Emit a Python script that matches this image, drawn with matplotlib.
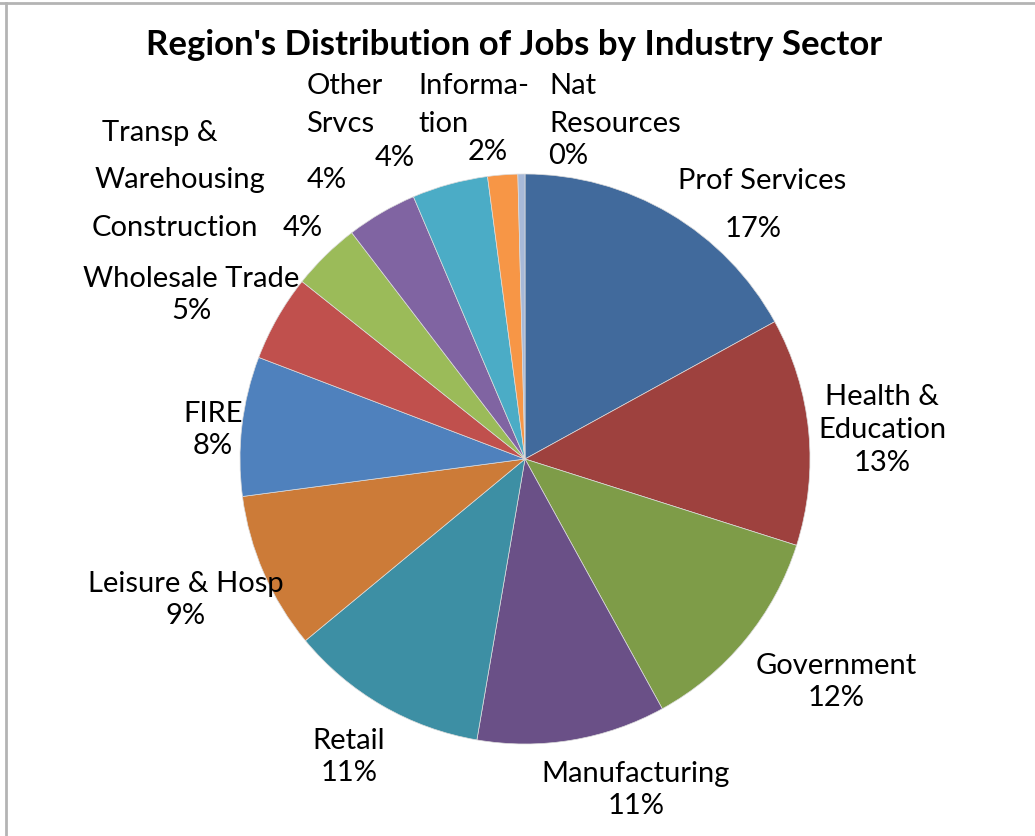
import matplotlib
matplotlib.use("Agg")
import matplotlib.pyplot as plt
from matplotlib.lines import Line2D

# shares of jobs (%), clockwise from 12 o'clock
sectors = ["Prof Services", "Health & Education", "Government", "Manufacturing",
           "Retail", "Leisure & Hosp", "FIRE", "Wholesale Trade", "Construction",
           "Transp & Warehousing", "Other Srvcs", "Information", "Nat Resources"]
shares = [17.0, 12.9, 12.1, 10.7, 11.3, 8.9, 7.9, 4.9, 3.9, 4.0, 4.3, 1.7, 0.4]
colors = ["#416A9C", "#9E413E", "#7E9C48", "#6A5087", "#3D8FA4", "#CC7B38",
          "#4F81BD", "#C0504D", "#9BBB59", "#8064A2", "#4BACC6", "#F79646",
          "#A7B9D8"]

W, H = 1035, 837
fig = plt.figure(figsize=(W / 100, H / 100), dpi=100)
ax = fig.add_axes([0, 0, 1, 1])
ax.axis("off")

# pie, in pixel coordinates (y measured from bottom)
ax.pie(shares, colors=colors, startangle=90, counterclock=False,
       center=(525, H - 460), radius=285,
       wedgeprops=dict(edgecolor="#dcdcdc", linewidth=0.5))
ax.set_aspect("equal")
ax.set_xlim(0, W)
ax.set_ylim(0, H)

pct = [f"{round(s)}%" for s in shares]
font = "Lato"
fs = 21

def put(x, y, txt, ha="center"):
    ax.text(x, H - y, txt, ha=ha, va="center", fontsize=fs, family=font,
            linespacing=1.32)

# data labels (positions in pixels from top-left)
put(762, 181, "Prof Services")
put(753, 229, pct[0])
put(882, 430, "Health &\nEducation\n" + pct[1])
put(836, 682, "Government\n" + pct[2])
put(636, 790, "Manufacturing\n" + pct[3])
put(349, 757, "Retail\n" + pct[4])
put(186, 600, "Leisure & Hosp\n" + pct[5])
put(213, 430, "FIRE\n" + pct[6])
put(191, 295, "Wholesale Trade\n" + pct[7])
put(175, 228, "Construction")
put(303, 228, pct[8])
put(160, 133, "Transp &")
put(180, 180, "Warehousing")
put(327, 180, pct[9])
put(345, 86, "Other")
put(340, 124, "Srvcs")
put(395, 158, pct[10])
put(474, 86, "Informa-")
put(443, 124, "tion")
put(488, 152, pct[11])
put(549, 86, "Nat", ha="left")
put(549, 124, "Resources", ha="left")
put(568, 156, pct[12])

ax.text(514, H - 45, "Region's Distribution of Jobs by Industry Sector",
        ha="center", va="center", fontsize=25, fontweight="bold", family=font)

# chart frame (only top and left edges visible)
fig.add_artist(Line2D([0, 1], [1 - 3.5 / H, 1 - 3.5 / H], color="#b4b4b4", lw=2,
                      transform=fig.transFigure))
fig.add_artist(Line2D([5.5 / W, 5.5 / W], [0, 1 - 3.5 / H], color="#b4b4b4", lw=2,
                      transform=fig.transFigure))

fig.savefig("out.png", dpi=100)
